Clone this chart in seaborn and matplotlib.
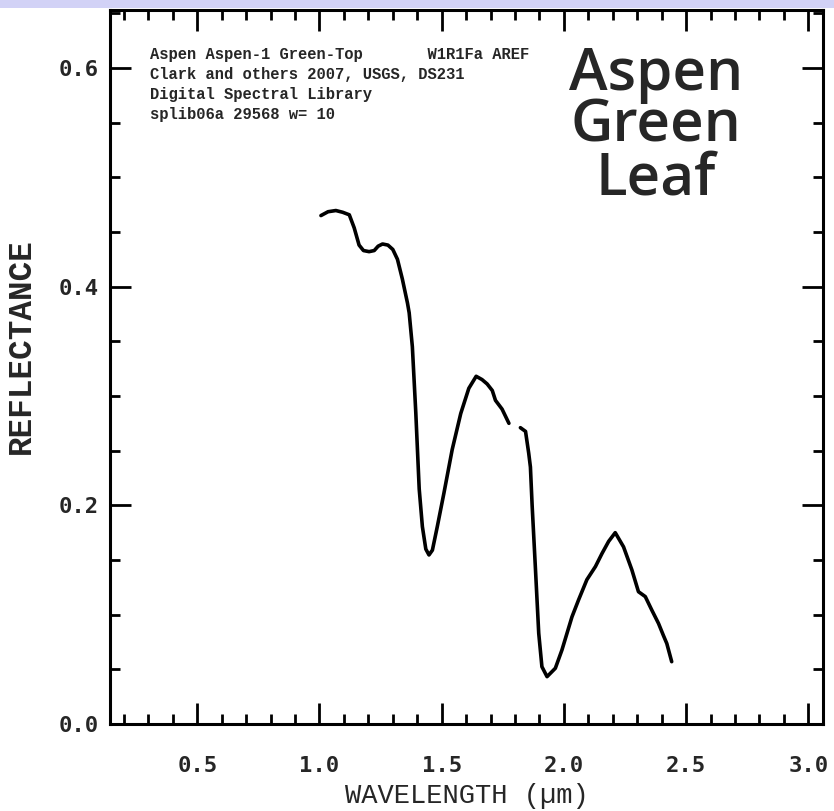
import numpy as np
import pandas as pd
import matplotlib
matplotlib.use("Agg")
import matplotlib.pyplot as plt
from matplotlib.patches import Rectangle
from matplotlib.ticker import MultipleLocator
import seaborn as sns

# ---- data ----
seg1_wavelength = [1.006, 1.035, 1.067, 1.095, 1.122, 1.142, 1.162, 1.180, 1.203, 1.224,
                   1.240, 1.258, 1.280, 1.300, 1.319, 1.339, 1.360, 1.367, 1.380, 1.394,
                   1.408, 1.421, 1.435, 1.448, 1.462, 1.482, 1.509, 1.543, 1.578, 1.611,
                   1.641, 1.665, 1.686, 1.707, 1.720, 1.747, 1.775]
seg1_reflectance = [0.465, 0.4685, 0.4696, 0.468, 0.4657, 0.4538, 0.438, 0.433, 0.432, 0.433,
                    0.437, 0.439, 0.438, 0.434, 0.425, 0.407, 0.385, 0.376, 0.345, 0.285,
                    0.215, 0.1805, 0.160, 0.1546, 0.159, 0.1805, 0.211, 0.251, 0.284, 0.307,
                    0.318, 0.315, 0.311, 0.305, 0.296, 0.288, 0.275]
seg2_wavelength = [1.822, 1.843, 1.856, 1.863, 1.870, 1.877, 1.884, 1.897, 1.910, 1.931,
                   1.965, 1.992, 2.033, 2.060, 2.094, 2.129, 2.156, 2.183, 2.210, 2.244,
                   2.278, 2.305, 2.333, 2.360, 2.387, 2.407, 2.421, 2.441]
seg2_reflectance = [0.271, 0.2676, 0.2477, 0.235, 0.200, 0.170, 0.140, 0.083, 0.0524, 0.0433,
                    0.051, 0.0677, 0.098, 0.1135, 0.132, 0.144, 0.156, 0.167, 0.175, 0.162,
                    0.141, 0.121, 0.1165, 0.104, 0.092, 0.081, 0.0736, 0.057]

x_ticks = [0.5, 1.0, 1.5, 2.0, 2.5, 3.0]
x_tick_labels = ["0.5", "1.0", "1.5", "2.0", "2.5", "3.0"]
y_ticks = [0.0, 0.2, 0.4, 0.6]
y_tick_labels = ["0.0", "0.2", "0.4", "0.6"]

info_lines = ["Aspen Aspen-1 Green-Top       W1R1Fa AREF",
              "Clark and others 2007, USGS, DS231",
              "Digital Spectral Library",
              "splib06a 29568 w= 10"]
big_title = "Aspen\nGreen\nLeaf"
x_label = "WAVELENGTH (\u00b5m)"
y_label = "REFLECTANCE"

df = pd.DataFrame({
    "wavelength": seg1_wavelength + seg2_wavelength,
    "reflectance": seg1_reflectance + seg2_reflectance,
    "segment": [1] * len(seg1_wavelength) + [2] * len(seg2_wavelength),
})

sns.set_style("white")
plt.rcParams["font.family"] = ["DejaVu Sans"]

W, H = 834, 811
fig = plt.figure(figsize=(W / 100, H / 100), dpi=100)
ax = fig.add_axes([110 / W, 1 - 724 / H, (823 - 110) / W, (724 - 10) / H])

sns.lineplot(data=df, x="wavelength", y="reflectance", units="segment",
             estimator=None, sort=False, color="black", linewidth=2.6, ax=ax,
             legend=False)

ax.set_xlim(0.143, 3.06)
ax.set_ylim(0.0, 0.653)

ax.xaxis.set_major_locator(MultipleLocator(0.5))
ax.xaxis.set_minor_locator(MultipleLocator(0.1))
ax.yaxis.set_major_locator(MultipleLocator(0.2))
ax.yaxis.set_minor_locator(MultipleLocator(0.05))
ax.set_xticks(x_ticks)
ax.set_xticklabels(x_tick_labels)
ax.set_yticks(y_ticks)
ax.set_yticklabels(y_tick_labels)

ax.tick_params(which="both", direction="in", top=True, right=True,
               bottom=True, left=True, color="black")
ax.tick_params(which="major", length=15, width=2.0)
ax.tick_params(which="minor", length=7.5, width=2.0)
ax.tick_params(axis="x", which="major", pad=23)
ax.tick_params(axis="y", which="major", pad=8)
for lab in ax.get_xticklabels() + ax.get_yticklabels():
    lab.set_fontfamily("DejaVu Sans Mono")
    lab.set_fontweight("bold")
    lab.set_fontsize(16)

for sp in ax.spines.values():
    sp.set_visible(True)
    sp.set_linewidth(2.2)
    sp.set_color("black")

ax.set_xlabel(x_label, fontfamily=["Liberation Mono", "DejaVu Sans Mono"],
              fontsize=19.5)
ax.xaxis.set_label_coords(0.5, (724 - 796) / 714)
ax.xaxis.label.set_va("center")
ax.set_ylabel(y_label, fontfamily=["Liberation Mono", "DejaVu Sans Mono"],
              fontsize=23.5, fontweight="bold")
ax.yaxis.set_label_coords((21 - 110) / 713, (724 - 346) / 714)
ax.yaxis.label.set_va("center")

for i, line in enumerate(info_lines):
    fig.text(150 / W, 1 - (55 + 20 * i) / H, line, fontfamily="Liberation Mono",
             fontweight="bold", fontsize=11.2, va="center", ha="left")

fig.text(656 / W, 1 - 127 / H, big_title, fontfamily="Open Sans", fontweight="semibold",
         fontsize=42, ha="center", va="center", linespacing=0.87,
         multialignment="center")

fig.patches.append(Rectangle((0, 1 - 8 / H), 1, 8 / H, transform=fig.transFigure,
                             facecolor="#d2d2f6", edgecolor="none", zorder=0))

fig.savefig("out.png", dpi=100)
